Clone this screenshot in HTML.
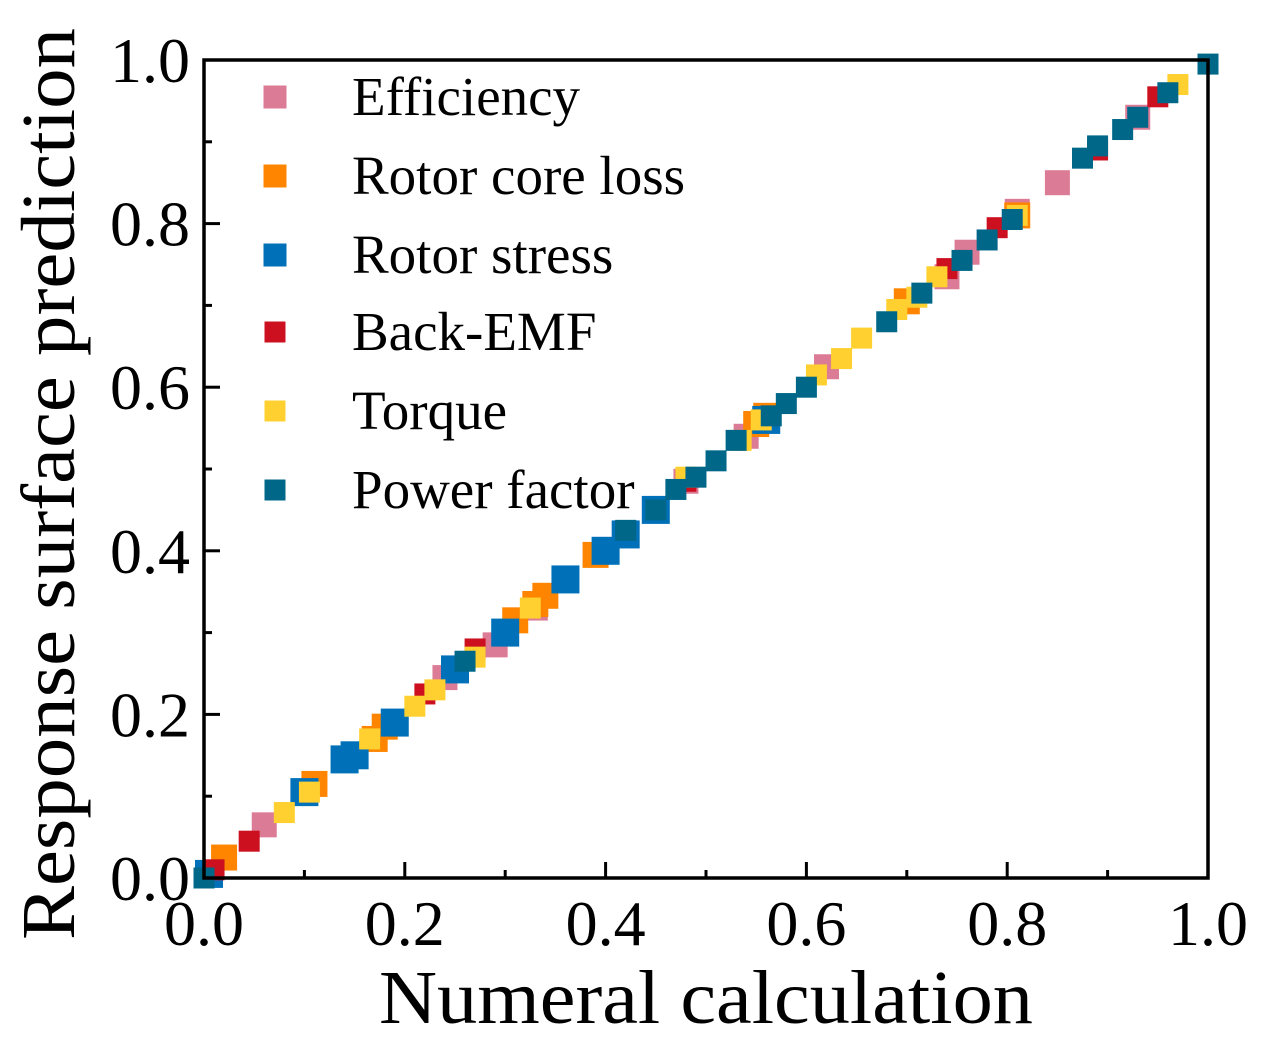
<!DOCTYPE html>
<html><head><meta charset="utf-8"><style>
html,body{margin:0;padding:0;background:#fff}
svg{display:block;font-family:"Liberation Serif",serif}
</style></head><body>
<svg id="chart" width="1270" height="1055" viewBox="0 0 1270 1055">
<rect x="0" y="0" width="1270" height="1055" fill="#fff"/>
<g id="marks"></g>
<g id="axes"></g>
<g id="legend"></g>
</svg>
<script>
const effX=[0.06,0.24,0.29,0.33,0.48,0.54,0.62,0.74,0.76,0.81,0.85,0.93];
const effY=[0.065,0.245,0.285,0.33,0.485,0.54,0.625,0.735,0.765,0.815,0.85,0.93];
const coreX=[0.02,0.11,0.17,0.18,0.31,0.33,0.34,0.39,0.42,0.45,0.55,0.56,0.70,0.81];
const coreY=[0.025,0.115,0.17,0.185,0.315,0.335,0.345,0.395,0.42,0.45,0.555,0.565,0.705,0.81];
const stressX=[0.005,0.10,0.14,0.15,0.19,0.25,0.30,0.36,0.40,0.42,0.45,0.56];
const stressY=[0.005,0.105,0.145,0.15,0.19,0.255,0.30,0.365,0.40,0.42,0.45,0.56];
const emfX=[0.01,0.045,0.22,0.27,0.48,0.74,0.79,0.89,0.95];
const emfY=[0.01,0.045,0.225,0.28,0.485,0.745,0.795,0.89,0.955];
const torX=[0.08,0.105,0.165,0.21,0.23,0.27,0.325,0.48,0.535,0.555,0.61,0.635,0.655,0.69,0.71,0.73,0.81,0.97];
const torY=[0.08,0.105,0.17,0.21,0.23,0.27,0.33,0.49,0.535,0.56,0.615,0.635,0.66,0.695,0.71,0.735,0.81,0.97];
const pfX=[0.0,0.26,0.42,0.45,0.47,0.49,0.51,0.53,0.565,0.58,0.60,0.68,0.715,0.755,0.78,0.805,0.875,0.89,0.915,0.93,0.96,1.0];
const pfY=[0.0,0.265,0.425,0.45,0.475,0.49,0.51,0.535,0.565,0.58,0.60,0.68,0.715,0.755,0.78,0.805,0.88,0.895,0.915,0.93,0.96,0.995];
const tickVals=[0,0.2,0.4,0.6,0.8,1.0];
const tickLabels=["0.0","0.2","0.4","0.6","0.8","1.0"];
const seriesNames=["Efficiency","Rotor core loss","Rotor stress","Back-EMF","Torque","Power factor"];

const NS="http://www.w3.org/2000/svg";
const X0=204,X1=1208,Y0=878,Y1=60;
function sx(v){return X0+(X1-X0)*v;}
function sy(v){return Y0-(Y0-Y1)*v;}
function mk(tag,attrs,parent){const e=document.createElementNS(NS,tag);for(const k in attrs)e.setAttribute(k,attrs[k]);parent.appendChild(e);return e;}
const marks=document.getElementById('marks'),axes=document.getElementById('axes'),legend=document.getElementById('legend');
const series=[
 {x:effX,y:effY,c:"#dc7b96",s:25},
 {x:coreX,y:coreY,c:"#ff8500",s:26},
 {x:stressX,y:stressY,c:"#0070b8",s:28},
 {x:emfX,y:emfY,c:"#cc1020",s:21},
 {x:torX,y:torY,c:"#ffd030",s:21},
 {x:pfX,y:pfY,c:"#006788",s:21}
];
series.forEach((se,si)=>{
 se.x.forEach((xv,i)=>{
  const r=mk('rect',{x:sx(xv)-se.s/2,y:sy(se.y[i])-se.s/2,width:se.s,height:se.s,fill:se.c},marks);
  
  
 });
});
const fr=mk('rect',{x:X0,y:Y1,width:X1-X0,height:Y0-Y1,fill:"none",stroke:"#000","stroke-width":3.5},axes);


for(let k=1;k<10;k++){
 const v=k/10,len=(k%2===0)?16:8;
 mk('line',{x1:sx(v),x2:sx(v),y1:Y0,y2:Y0-len,stroke:"#000","stroke-width":3},axes);
 mk('line',{x1:X0,x2:X0+len,y1:sy(v),y2:sy(v),stroke:"#000","stroke-width":3},axes);
}
tickVals.forEach((v,i)=>{
 const t=mk('text',{x:sx(v),y:945,"font-size":64,"text-anchor":"middle"},axes);
 t.textContent=tickLabels[i];
 
 
 const u=mk('text',{x:190,y:sy(v)+22,"font-size":64,"text-anchor":"end"},axes);
 u.textContent=tickLabels[i];
 
 
});
const xt=mk('text',{x:706,y:1023,"font-size":76,"text-anchor":"middle",textLength:654,lengthAdjust:"spacingAndGlyphs"},axes);
xt.textContent="Numeral calculation";


const yt=mk('text',{x:0,y:0,"font-size":76,"text-anchor":"middle",textLength:912,lengthAdjust:"spacingAndGlyphs",transform:"translate(74,484) rotate(-90)"},axes);
yt.textContent="Response surface prediction";


const ly=[97,176,255,332,411,490];
series.forEach((se,i)=>{
 const g=mk('g',{},legend);
 
 
 const s=Math.min(se.s,23);
 mk('rect',{x:275-s/2,y:ly[i]-s/2,width:s,height:s,fill:se.c},g);
 const t=mk('text',{x:352,y:ly[i]+18,"font-size":55},g);
 t.textContent=seriesNames[i];
});
</script>
</body></html>
